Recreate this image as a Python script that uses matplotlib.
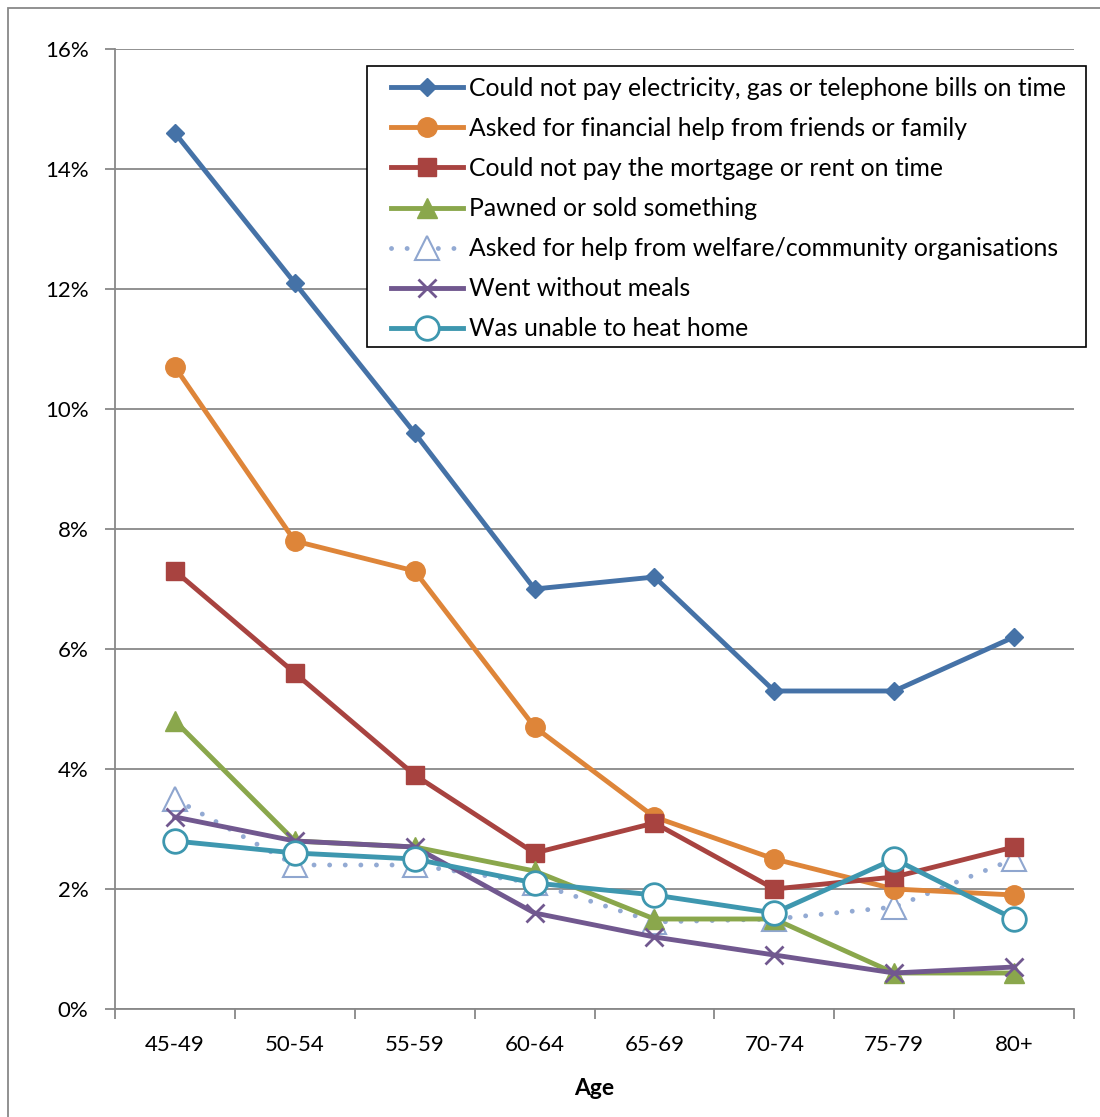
import matplotlib
matplotlib.use("Agg")
import matplotlib.pyplot as plt
from matplotlib.patches import Rectangle
from matplotlib.ticker import FixedLocator, NullFormatter

plt.rcParams["font.family"] = ["Lato", "DejaVu Sans"]

ages = ["45-49", "50-54", "55-59", "60-64", "65-69", "70-74", "75-79", "80+"]

bills = [14.6, 12.1, 9.6, 7.0, 7.2, 5.3, 5.3, 6.2]
family_help = [10.7, 7.8, 7.3, 4.7, 3.2, 2.5, 2.0, 1.9]
mortgage = [7.3, 5.6, 3.9, 2.6, 3.1, 2.0, 2.2, 2.7]
pawned = [4.8, 2.8, 2.7, 2.3, 1.5, 1.5, 0.6, 0.6]
welfare = [3.5, 2.4, 2.4, 2.1, 1.45, 1.5, 1.7, 2.5]
meals = [3.2, 2.8, 2.7, 1.6, 1.2, 0.9, 0.6, 0.7]
heat = [2.8, 2.6, 2.5, 2.1, 1.9, 1.6, 2.5, 1.5]

labels = [
    "Could not pay electricity, gas or telephone bills on time",
    "Asked for financial help from friends or family",
    "Could not pay the mortgage or rent on time",
    "Pawned or sold something",
    "Asked for help from welfare/community organisations",
    "Went without meals",
    "Was unable to heat home",
]

yticks = [0, 2, 4, 6, 8, 10, 12, 14, 16]

GRID = "#888888"
W, H = 1100, 1117

fig = plt.figure(figsize=(11, 11.17), dpi=100)
ax = fig.add_axes([115 / W, 1 - 1009 / H, (1074 - 115) / W, (1009 - 49) / H])

x = list(range(len(ages)))
lw = 3.5

ax.plot(x, bills, color="#4572A7", lw=lw, marker="D", ms=9.5,
        label=labels[0], zorder=5)
ax.plot(x, family_help, color="#DE8539", lw=lw, marker="o", ms=14,
        label=labels[1], zorder=5)
ax.plot(x, mortgage, color="#A84340", lw=lw, marker="s", ms=13,
        label=labels[2], zorder=5)
ax.plot(x, pawned, color="#8AA74C", lw=lw, marker="^", ms=14,
        label=labels[3], zorder=5)
ax.plot(x, welfare, color="#93AAD3", lw=3.5, linestyle=(0, (0.01, 3.2)),
        dash_capstyle="round", marker="^", ms=17, mfc="white",
        mec="#8FA6CF", mew=1.5, label=labels[4], zorder=4)
ax.plot(x, meals, color="#71588F", lw=lw, marker="x", ms=13, mew=2,
        label=labels[5], zorder=6)
ax.plot(x, heat, color="#3E97AF", lw=lw, marker="o", ms=17, mfc="white",
        mec="#3E97AF", mew=2, label=labels[6], zorder=7)

ax.set_xlim(-0.5, len(ages) - 0.5)
ax.set_ylim(0, 16)

ax.set_yticks(yticks)
ax.set_yticklabels([f"{v}%" for v in yticks])
ax.yaxis.grid(True, color=GRID, lw=1.3)
ax.set_axisbelow(True)

# category labels sit between boundary tick marks
ax.xaxis.set_major_locator(FixedLocator([i - 0.5 for i in range(len(ages) + 1)]))
ax.xaxis.set_major_formatter(NullFormatter())
ax.set_xticks(x, minor=True)
ax.set_xticklabels(ages, minor=True)
ax.tick_params(axis="x", which="major", length=7, width=1.3, color=GRID,
               direction="out")
ax.tick_params(axis="x", which="minor", length=0, pad=19, labelsize=16)
ax.tick_params(axis="y", length=7, width=1.3, color=GRID, pad=12,
               labelsize=16)

for side in ("top", "right"):
    ax.spines[side].set_visible(False)
for side in ("left", "bottom"):
    ax.spines[side].set_color(GRID)
    ax.spines[side].set_linewidth(1.3)

ax.set_xlabel("Age", fontsize=16.5, fontweight="bold", labelpad=16)

# legend entries without frame; white box drawn separately underneath
leg = fig.legend(loc="upper left", bbox_to_anchor=(391 / W, 1 - 77 / H),
                 bbox_transform=fig.transFigure, borderaxespad=0,
                 borderpad=0, fontsize=17.8, frameon=False,
                 handlelength=2.9, handletextpad=0.25, labelspacing=0.69)
leg.set_zorder(6)
fig.patches.append(Rectangle((367 / W, 1 - 347 / H), (1086 - 367) / W,
                             (347 - 66) / H, transform=fig.transFigure,
                             facecolor="white", edgecolor="black", lw=1.2,
                             zorder=4))

# chart area border
fig.patches.append(Rectangle((8 / W, -0.01), 1.05, 1 - 8 / H + 0.01,
                             transform=fig.transFigure, fill=False,
                             edgecolor=GRID, lw=1.3, zorder=0))

fig.savefig("out.png", dpi=100)
